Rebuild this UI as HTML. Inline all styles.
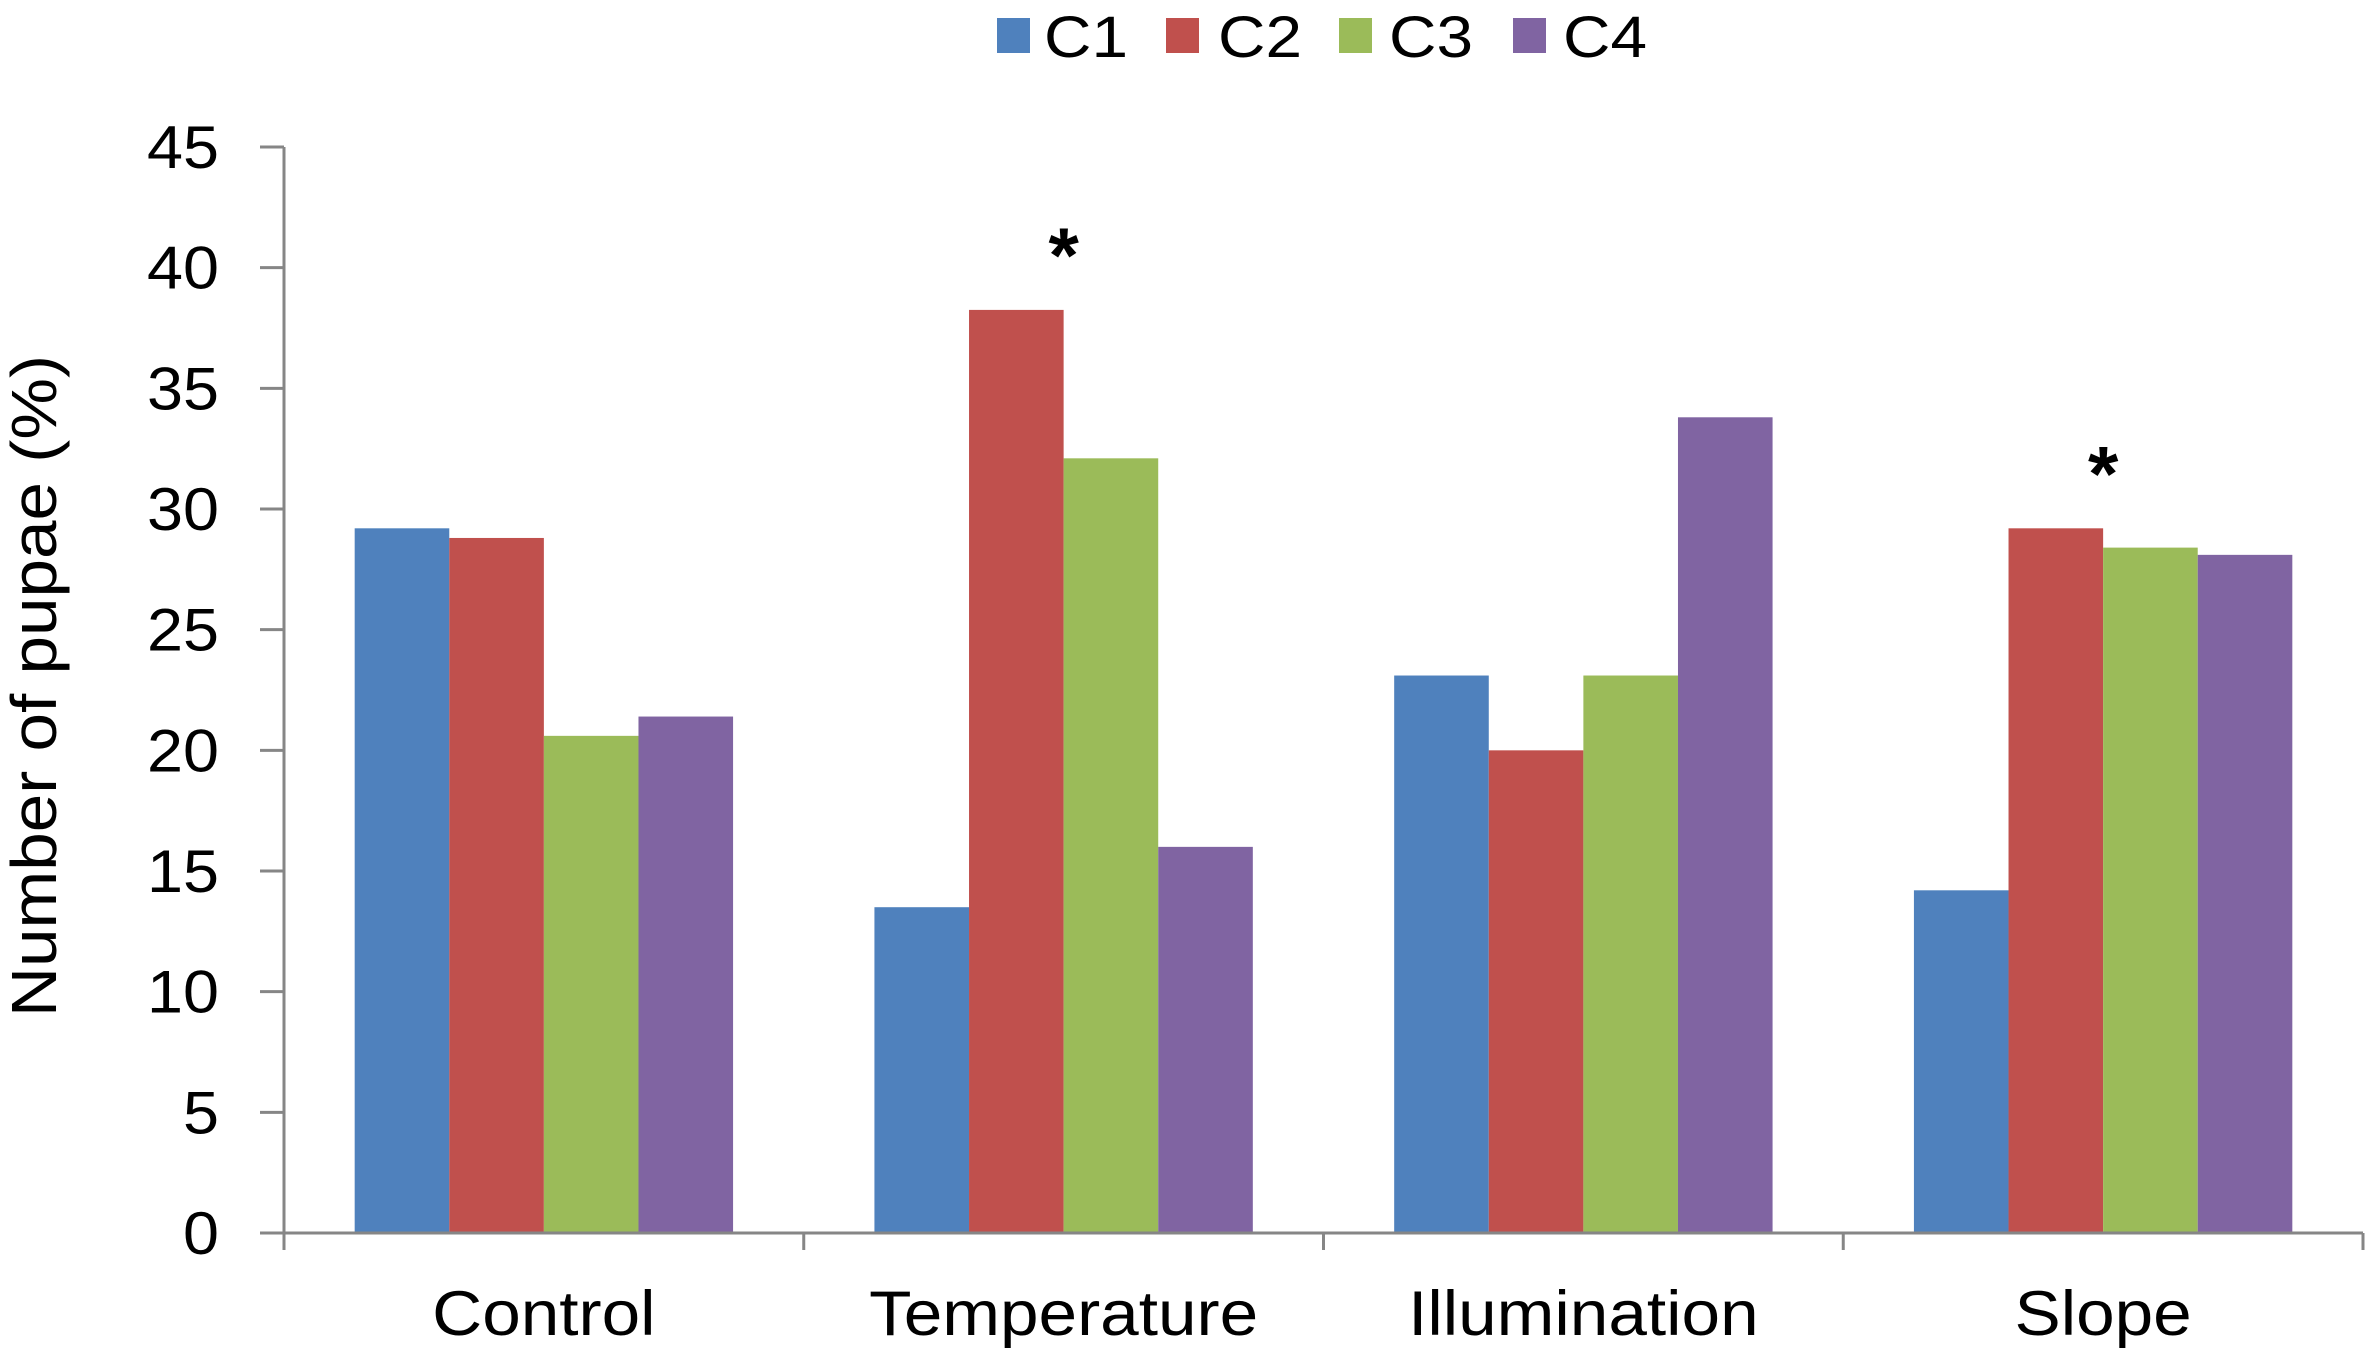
<!DOCTYPE html>
<html><head><meta charset="utf-8"><style>html,body{margin:0;padding:0;background:#fff;}svg{display:block;}</style></head>
<body>
<svg id="chart" width="2372" height="1356" viewBox="0 0 2372 1356" xmlns="http://www.w3.org/2000/svg" font-family="Liberation Sans, sans-serif"></svg>
<script>
const categories = ["Control", "Temperature", "Illumination", "Slope"];
const seriesNames = ["C1", "C2", "C3", "C4"];
const c1Values = [29.2, 13.5, 23.1, 14.2];
const c2Values = [28.8, 38.25, 20.0, 29.2];
const c3Values = [20.6, 32.1, 23.1, 28.4];
const c4Values = [21.4, 16.0, 33.8, 28.1];
const yTicks = [0, 5, 10, 15, 20, 25, 30, 35, 40, 45];
const significant = [false, true, false, true];

const colors = ["#4f81bd", "#c0504d", "#9bbb59", "#8064a2"];
const NS = "http://www.w3.org/2000/svg";
const svg = document.getElementById("chart");
const x0 = 284, x1 = 2363, yBase = 1233, yTop = 147, yMax = 45;
const catW = (x1 - x0) / categories.length;
const barW = 94.6, gap = (catW - 4 * barW) / 2;
const yScale = v => yBase - (v / yMax) * (yBase - yTop);
const xBar = (ci, si) => x0 + ci * catW + gap + si * barW;
function mk(tag, attrs, text) {
  const e = document.createElementNS(NS, tag);
  for (const k in attrs) e.setAttribute(k, attrs[k]);
  if (text !== undefined) e.textContent = text;
  svg.appendChild(e);
  return e;
}
const allSeries = [c1Values, c2Values, c3Values, c4Values];
allSeries.forEach((vals, si) => {
  vals.forEach((v, ci) => {
    const r = mk("rect", {x: xBar(ci, si), y: yScale(v), width: barW, height: yBase - yScale(v), fill: colors[si]});
    
    
  });
});
const ya = mk("line", {x1: x0, y1: yTop, x2: x0, y2: yBase + 17, stroke: "#868686", "stroke-width": 3});


const xa = mk("line", {x1: x0 - 24, y1: yBase, x2: x1, y2: yBase, stroke: "#868686", "stroke-width": 3});


yTicks.forEach(t => {
  const tl = mk("line", {x1: x0 - 24, y1: yScale(t), x2: x0, y2: yScale(t), stroke: "#868686", "stroke-width": 3});
  
  
  const s = String(t);
  const lb = mk("text", {x: 219, y: yScale(t) + 21, "text-anchor": "end", "font-size": 60, fill: "#000", textLength: 36 * s.length, lengthAdjust: "spacingAndGlyphs"}, s);
  
  
});
for (let i = 0; i <= categories.length; i++) {
  const tk = mk("line", {x1: x0 + i * catW, y1: yBase, x2: x0 + i * catW, y2: yBase + 17, stroke: "#868686", "stroke-width": 3});
  
  
}
categories.forEach((c, ci) => {
  const cx = x0 + (ci + 0.5) * catW;
  const lb = mk("text", {x: cx, y: 1335, "text-anchor": "middle", "font-size": 63, fill: "#000"}, c);
  
  
  const w = lb.getComputedTextLength();
  lb.setAttribute('textLength', w * 1.1);
  lb.setAttribute('lengthAdjust', 'spacingAndGlyphs');
  if (significant[ci]) {
    const ast = mk("text", {x: cx, y: yScale(Math.max(c1Values[ci], c2Values[ci], c3Values[ci], c4Values[ci])) - 28, "text-anchor": "middle", "font-size": 78, "font-weight": "bold", fill: "#000"}, "*");
    
    
  }
});
const yt = mk("text", {x: 0, y: 0, "text-anchor": "middle", "font-size": 64, fill: "#000", transform: "translate(56,686) rotate(-90)", textLength: 662, lengthAdjust: "spacingAndGlyphs"}, "Number of pupae (%)");


const legSq = [997, 1166, 1339, 1513];
const legTx = [1044, 1218, 1389, 1563];
seriesNames.forEach((s, i) => {
  const sq = mk("rect", {x: legSq[i], y: 18, width: 33, height: 35, fill: colors[i]});
  
  
  const t = mk("text", {x: legTx[i], y: 57, "font-size": 58, fill: "#000", textLength: 84, lengthAdjust: "spacingAndGlyphs"}, s);
  
  
});
</script>
</body></html>
